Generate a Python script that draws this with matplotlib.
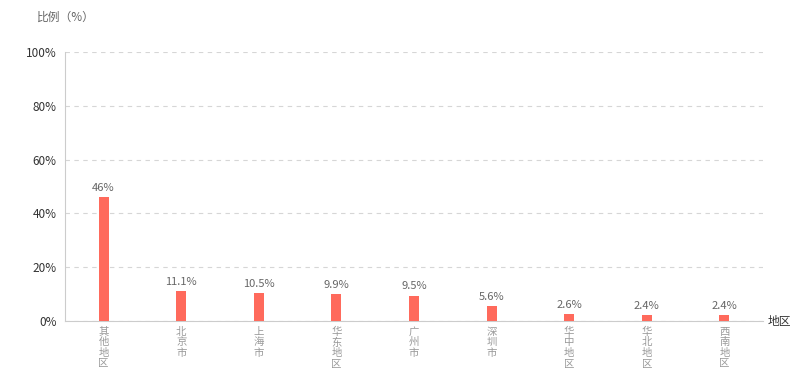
import numpy as np
import matplotlib.pyplot as plt

plt.rcParams['font.family'] = ['Noto Sans CJK SC', 'DejaVu Sans']

regions = ["其他地区", "北京市", "上海市", "华东地区", "广州市", "深圳市", "华中地区", "华北地区", "西南地区"]
values = [46, 11.1, 10.5, 9.9, 9.5, 5.6, 2.6, 2.4, 2.4]
value_labels = ["46%", "11.1%", "10.5%", "9.9%", "9.5%", "5.6%", "2.6%", "2.4%", "2.4%"]
yticks = [0, 20, 40, 60, 80, 100]

fig = plt.figure(figsize=(8, 3.76), dpi=100)
ax = fig.add_axes([0.081, 0.146, 0.873, 0.716])

x = np.arange(len(regions))
ax.bar(x, values, width=0.13, color="#ff6a5c", zorder=3)
for xi, v, s in zip(x, values, value_labels):
    ax.text(xi, v + 1.5, s, ha="center", va="bottom", fontsize=8, color="#666666")

ax.set_xlim(-0.5, len(regions) - 0.5)
ax.set_ylim(0, 100)
ax.set_yticks(yticks)
ax.set_yticklabels([str(t) + "%" for t in yticks], fontsize=8.5, color="#333333")
ax.set_xticks(x)
ax.set_xticklabels(["\n".join(r) for r in regions], fontsize=7.5, color="#999999",
                   linespacing=1.07, va="top")
ax.tick_params(axis="x", length=0, pad=4)
ax.tick_params(axis="y", length=0, pad=6)
ax.grid(axis="y", color="#d6d6d6", linestyle=(0, (4, 4)), linewidth=0.8, zorder=0)

for side in ["top", "right"]:
    ax.spines[side].set_visible(False)
ax.spines["left"].set_color("#cccccc")
ax.spines["bottom"].set_color("#cccccc")

fig.text(37 / 800, 1 - 17 / 376, "比例（%）", fontsize=8.5, color="#666666", ha="left", va="center")
fig.text(768 / 800, 1 - 321 / 376, "地区", fontsize=8.5, color="#333333", ha="left", va="center")

fig.savefig("out.png", dpi=100)
